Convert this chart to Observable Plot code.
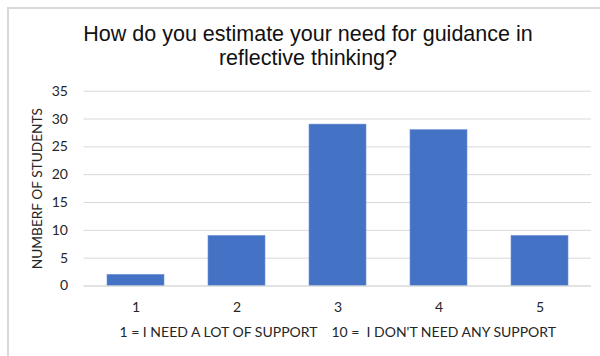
<!DOCTYPE html>
<html>
<head>
<meta charset="utf-8">
<script src="https://cdn.jsdelivr.net/npm/d3@7"></script>
<script src="https://cdn.jsdelivr.net/npm/@observablehq/plot@0.6"></script>
<style>
  html, body { margin: 0; padding: 0; background: #fff; }
  #wrap { position: relative; width: 600px; height: 356px; overflow: hidden; }
  #border { position: absolute; left: 7px; top: 7px; width: 620px; height: 400px;
            border-left: 2px solid #d9d9d9; border-top: 2px solid #d9d9d9; box-sizing: border-box; }
  #title { position: absolute; left: 0; width: 616px; top: 21.5px; text-align: center;
           font-family: "Liberation Sans", Arial, sans-serif; font-size: 21.5px; line-height: 24px; color: #111; }
  #chart { position: absolute; left: 0; top: 0; }
</style>
</head>
<body>
<div id="wrap">
  <div id="border"></div>
  <div id="chart"></div>
  <div id="title">How do you estimate your need for guidance in<br>reflective thinking?</div>
</div>
<script>
const categories = ["1", "2", "3", "4", "5"];
const students = [2, 9, 29, 28, 9];
const yTicks = [0, 5, 10, 15, 20, 25, 30, 35];
const yLabel = "NUMBERF OF STUDENTS";
const xCaption = "1 = I NEED A LOT OF SUPPORT    10 =  I DON'T NEED ANY SUPPORT";

const data = categories.map((c, i) => ({category: c, value: students[i]}));
const font = "Lato, 'Open Sans', sans-serif";

const chart = Plot.plot({
  width: 600,
  height: 356,
  marginTop: 90.7,
  marginBottom: 70.5,
  marginLeft: 83.5,
  marginRight: 9,
  style: {background: "transparent", fontFamily: font},
  x: {domain: categories, paddingInner: 0.44, paddingOuter: 0.22, label: null},
  y: {domain: [0, 35], ticks: yTicks, label: null},
  marks: [
    Plot.gridY(yTicks, {stroke: "#d9d9d9", strokeOpacity: 1, strokeWidth: 1}),
    Plot.barY(data, {x: "category", y: "value", fill: "#4472c4", stroke: "#6f93d6", strokeWidth: 0.6}),
    Plot.ruleY([0], {stroke: "#d9d9d9", strokeWidth: 1}),
    Plot.axisY(yTicks, {tickSize: 0, tickPadding: 16, fontSize: 14, fill: "#262626", label: null, fontFamily: font}),
    Plot.axisX({tickSize: 0, tickPadding: 16, fontSize: 14, fill: "#262626", label: null, fontFamily: font}),
    Plot.text([yLabel], {frameAnchor: "left", textAnchor: "middle", lineAnchor: "middle", dx: -46, rotate: -90, fontSize: 13.7, fill: "#262626", fontFamily: font}),
    Plot.text([xCaption], {frameAnchor: "bottom", lineAnchor: "middle", dy: 46.5, fontSize: 14, fill: "#262626", fontFamily: font})
  ]
});
document.getElementById("chart").appendChild(chart);
</script>
</body>
</html>
